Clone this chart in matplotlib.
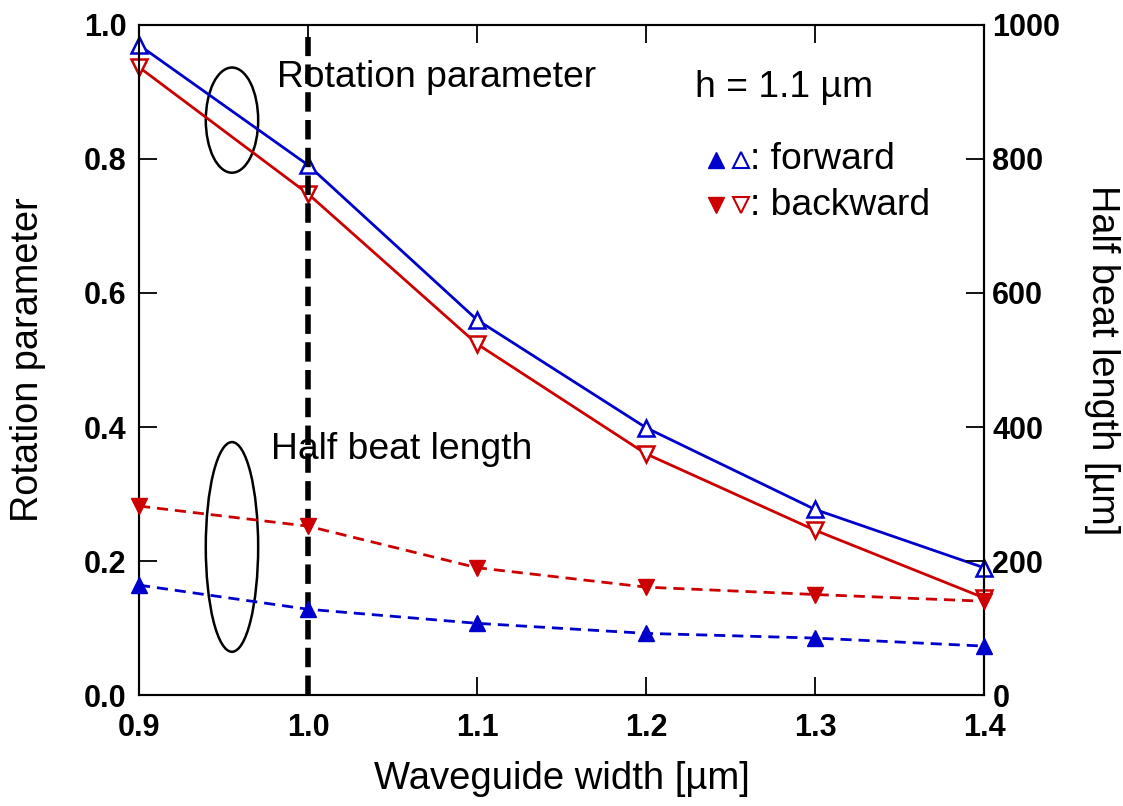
import numpy as np
import matplotlib.pyplot as plt
from matplotlib.patches import Ellipse

plt.rcParams['font.family'] = ['Liberation Sans', 'DejaVu Sans']

# waveguide width [um]
width = [0.9, 1.0, 1.1, 1.2, 1.3, 1.4]

# rotation parameter (open markers, solid lines)
rot_fwd = [0.970, 0.791, 0.560, 0.399, 0.277, 0.190]
rot_bwd = [0.937, 0.748, 0.524, 0.360, 0.246, 0.145]

# half beat length [um] (filled markers, dashed lines)
hbl_fwd = [164, 128, 107, 92, 85, 73]
hbl_bwd = [282, 252, 190, 161, 150, 140]

blue = "#0000CC"
red = "#CC0000"

fig = plt.figure(figsize=(11.23, 8.06), dpi=100)
ax = fig.add_axes([0.1238, 0.1377, 0.7524, 0.8313])
ax2 = ax.twinx()

ax.plot(width, rot_fwd, color=blue, lw=2, marker="^", ms=12, mfc="white",
        mec=blue, mew=1.8, clip_on=False, zorder=5)
ax.plot(width, rot_bwd, color=red, lw=2, marker="v", ms=12, mfc="white",
        mec=red, mew=1.8, clip_on=False, zorder=5)
ax2.plot(width, hbl_fwd, color=blue, lw=2, ls=(0, (4, 2.5)), marker="^", ms=12,
         mfc=blue, mec=blue, clip_on=False, zorder=5)
ax2.plot(width, hbl_bwd, color=red, lw=2, ls=(0, (4, 2.5)), marker="v", ms=12,
         mfc=red, mec=red, clip_on=False, zorder=5)

# vertical marker line at w = 1.0
ax.plot([1.0, 1.0], [0.0, 0.982], color="black", lw=4, ls=(0, (3.5, 1.5)), zorder=6)

# ellipses grouping the curves
ax.add_patch(Ellipse((0.955, 0.858), 0.031, 0.157, fill=False, ec="black", lw=1.8))
ax.add_patch(Ellipse((0.955, 0.221), 0.031, 0.313, fill=False, ec="black", lw=1.8))

ax.text(0.9817, 0.921, "Rotation parameter", fontsize=26.8, va="center", ha="left", zorder=7)
ax.text(0.978, 0.366, "Half beat length", fontsize=26.8, va="center", ha="left", zorder=7)

ax.set_xlim(0.9, 1.4)
ax.set_ylim(0, 1.0)
ax2.set_ylim(0, 1000)
ax.set_xticks(np.arange(0.9, 1.41, 0.1))
ax.set_yticks(np.arange(0, 1.01, 0.2))
ax2.set_yticks(np.arange(0, 1001, 200))
ax.set_xticklabels(["%.1f" % v for v in np.arange(0.9, 1.41, 0.1)])
ax.set_yticklabels(["%.1f" % v for v in np.arange(0, 1.01, 0.2)])

ax.tick_params(axis="both", direction="in", length=13, width=1.3, labelsize=22, top=True)
ax.tick_params(axis="x", pad=13)
ax.tick_params(axis="y", pad=9)
ax2.tick_params(axis="y", direction="in", length=13, width=1.3, labelsize=22, pad=6)
for lab in ax.get_xticklabels() + ax.get_yticklabels() + ax2.get_yticklabels():
    lab.set_fontweight("bold")
for a in (ax, ax2):
    for s in a.spines.values():
        s.set_linewidth(1.5)

ax.set_xlabel("Waveguide width [µm]", fontsize=27.5)
ax.set_ylabel("Rotation parameter", fontsize=27.3)
ax2.set_ylabel("Half beat length [µm]", fontsize=27.3, rotation=270)
ax.xaxis.set_label_coords(0.5, -0.126)
ax.xaxis.label.set_va("center")
ax.yaxis.set_label_coords(-0.131, 0.5)
ax.yaxis.label.set_va("center")
ax2.yaxis.set_label_coords(1.1396, 0.5)
ax2.yaxis.label.set_va("center")

# legend-like annotation
ax.text(0.658, 0.906, "h = 1.1 µm", transform=ax.transAxes, fontsize=26.8, va="center")
ax.plot([0.683], [0.7985], transform=ax.transAxes, marker="^", ms=11, color=blue, clip_on=False)
ax.plot([0.712], [0.7985], transform=ax.transAxes, marker="^", ms=11, mfc="white", mec=blue,
        mew=1.5, clip_on=False)
ax.text(0.7225, 0.7985, ": forward", transform=ax.transAxes, fontsize=26.8, va="center")
ax.plot([0.683], [0.731], transform=ax.transAxes, marker="v", ms=11, color=red, clip_on=False)
ax.plot([0.712], [0.731], transform=ax.transAxes, marker="v", ms=11, mfc="white", mec=red,
        mew=1.5, clip_on=False)
ax.text(0.7225, 0.731, ": backward", transform=ax.transAxes, fontsize=26.8, va="center")

fig.savefig("out.png", dpi=100)
